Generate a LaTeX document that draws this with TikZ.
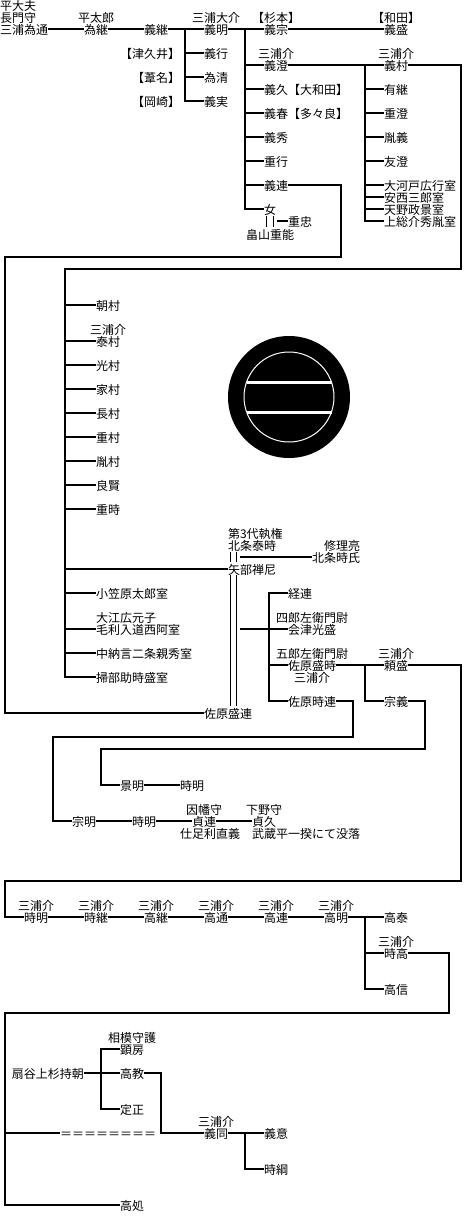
\documentclass[tikz,border=0pt]{standalone}
\usepackage{fontspec}
\setmainfont{Noto Sans CJK JP}
\usetikzlibrary{positioning}

\begin{document}
\begin{tikzpicture}[
    x=1pt, y=-1pt,
    node distance=12pt and 36pt,
    person/.style={inner sep=0pt, outer sep=0pt, text height=11pt, text depth=1pt, font=\fontsize{12}{12}\selectfont},
    under/.style={below=12pt of #1.south west, anchor=north west},
    over/.style={above=0pt of #1.north west, anchor=south west},
    wire/.style={draw, line width=2pt},
    marriage/.style={double, line width=1pt, double distance=4.4pt, shorten <=1pt, shorten >=1pt}
]
\useasboundingbox (0,0) rectangle (468,1224);

% 1. Crest
\coordinate (crest) at (289,397);
\fill (crest) circle (61);
\draw[white, line width=1pt] (crest) circle (45);
\draw[white, line width=3pt] ([shift={(-42.5,-15)}]crest) -- ([shift={(42.5,-15)}]crest);
\draw[white, line width=3pt] ([shift={(-42.5,15)}]crest) -- ([shift={(42.5,15)}]crest);

% 2. First rows
\node[person, anchor=west] (tamemichi) at (0,29) {三浦為通};
\node[person, over=tamemichi] (nagato) {長門守};
\node[person, over=nagato] (heitayu) {平大夫};
\node[person, right=of tamemichi] (tametsugu) {為継};
\node[person, above=0pt of tametsugu] (heitaro) {平太郎};
\node[person, right=of tametsugu] (yoshitsugu) {義継};
\node[person, right=of yoshitsugu] (yoshiaki) {義明};
\node[person, above=0pt of yoshiaki] (oosuke) {三浦大介};
\node[person, below=of yoshiaki] (yoshiyuki) {義行};
\node[person, below=of yoshiyuki] (tamekiyo) {為清};
\node[person, below=of tamekiyo] (yoshizane) {義実};
\node[person, left=24pt of yoshiyuki] (tsukui) {【津久井】};
\node[person, left=24pt of tamekiyo] (ashina) {【葦名】};
\node[person, left=24pt of yoshizane] (okazaki) {【岡崎】};

\node[person, right=of yoshiaki] (yoshimune) {義宗};
\node[person, above=0pt of yoshimune] (sugimoto) {【杉本】};
\node[person, right=96pt of yoshimune] (yoshimori) {義盛};
\node[person, above=0pt of yoshimori] (wada) {【和田】};

\node[person, below=24pt of yoshimune] (yoshizumi) {義澄};
\node[person, above=0pt of yoshizumi] (miurasukeA) {三浦介};
\node[person, under=yoshizumi] (yoshihisa) {義久【大和田】};
\node[person, under=yoshihisa] (yoshiharu) {義春【多々良】};
\node[person, under=yoshiharu] (yoshihide) {義秀};
\node[person, under=yoshihide] (shigeyuki) {重行};
\node[person, under=shigeyuki] (yoshitsura) {義連};
\node[person, under=yoshitsura] (onna) {女};
\node[person, below right=0pt and 12pt of onna] (shigetada) {重忠};
\node[person, below=13pt of onna] (shigeyoshi) {畠山重能};
\coordinate[left=11pt of shigetada.west] (onnapair);

\node[person, right=96pt of yoshizumi] (yoshimura) {義村};
\node[person, above=0pt of yoshimura] (miurasukeB) {三浦介};
\node[person, under=yoshimura] (aritsugu) {有継};
\node[person, under=aritsugu] (shigezumi) {重澄};
\node[person, under=shigezumi] (taneyoshi) {胤義};
\node[person, under=taneyoshi] (tomozumi) {友澄};
\node[person, under=tomozumi] (okawado) {大河戸広行室};
\node[person, below=0pt of okawado.south west, anchor=north west] (anzai) {安西三郎室};
\node[person, below=0pt of anzai.south west, anchor=north west] (amano) {天野政景室};
\node[person, below=0pt of amano.south west, anchor=north west] (kazusa) {上総介秀胤室};

% 3. Yoshimura's children
\node[person, anchor=west] (tomomura) at (96,305) {朝村};
\node[person, below=24pt of tomomura] (yasumura) {泰村};
\node[person, above=0pt of yasumura] (miurasukeC) {三浦介};
\node[person, below=of yasumura] (mitsumura) {光村};
\node[person, below=of mitsumura] (iemura) {家村};
\node[person, below=of iemura] (nagamura) {長村};
\node[person, below=of nagamura] (shigemura) {重村};
\node[person, below=of shigemura] (tanemura) {胤村};
\node[person, below=of tanemura] (ryoken) {良賢};
\node[person, below=of ryoken] (shigetoki) {重時};
\node[person, anchor=west] (ogasawara) at (96,593) {小笠原太郎室};
\node[person, below=24pt of ogasawara.south west, anchor=north west] (mori) {毛利入道西阿室};
\node[person, over=mori] (oe) {大江広元子};
\node[person, under=mori] (nagon) {中納言二条親秀室};
\node[person, under=nagon] (kamon) {掃部助時盛室};

\node[person, anchor=west] (yabe) at (228,569) {矢部禅尼};
\node[person, above=12pt of yabe] (yasutoki) {北条泰時};
\node[person, over=yasutoki] (shikken) {第3代執権};
\node[person, anchor=west] (tokiuji) at (312,557) {北条時氏};
\node[person, above=0pt of tokiuji.north east, anchor=south east] (shuri) {修理亮};
\node[person, anchor=west] (moritsura) at (204,713) {佐原盛連};
\coordinate (pairA) at (240,557);
\coordinate (pairB) at (240,629);

% 4. Sahara line
\node[person, anchor=west] (tsunetsura) at (288,593) {経連};
\node[person, below=24pt of tsunetsura.south west, anchor=north west] (mitsumori) {会津光盛};
\node[person, above=0pt of mitsumori] (shiro) {四郎左衛門尉};
\node[person, below=24pt of mitsumori] (moritoki) {佐原盛時};
\node[person, above=0pt of moritoki] (goro) {五郎左衛門尉};
\node[person, below=0pt of moritoki] (miurasukeD) {三浦介};
\node[person, below=24pt of moritoki] (tokitsura) {佐原時連};
\node[person, right=48pt of moritoki] (yorimori) {頼盛};
\node[person, above=0pt of yorimori] (miurasukeE) {三浦介};
\node[person, right=48pt of tokitsura] (muneyoshi) {宗義};

\node[person, anchor=west] (kageaki) at (120,785) {景明};
\node[person, right=of kageaki] (tokiakiA) {時明};
\node[person, anchor=west] (muneaki) at (72,821) {宗明};
\node[person, right=of muneaki] (tokiakiB) {時明};
\node[person, right=of tokiakiB] (sadatsura) {貞連};
\node[person, above=0pt of sadatsura] (inaba) {因幡守};
\node[person, below=0pt of sadatsura, xshift=6pt] (tadayoshi) {仕足利直義};
\node[person, right=of sadatsura] (sadahisa) {貞久};
\node[person, above=0pt of sadahisa] (shimotsuke) {下野守};
\node[person, below=0pt of sadahisa.south west, anchor=north west] (ikki) {武蔵平一揆にて没落};

% 5. Takaaki's row
\node[person, anchor=west] (tokiakiC) at (24,917) {時明};
\node[person, above=0pt of tokiakiC] (miurasukeF) {三浦介};
\node[person, right=of tokiakiC] (tokitsugu) {時継};
\node[person, above=0pt of tokitsugu] (miurasukeG) {三浦介};
\node[person, right=of tokitsugu] (takatsugu) {高継};
\node[person, above=0pt of takatsugu] (miurasukeH) {三浦介};
\node[person, right=of takatsugu] (takamichi) {高通};
\node[person, above=0pt of takamichi] (miurasukeI) {三浦介};
\node[person, right=of takamichi] (takatsura) {高連};
\node[person, above=0pt of takatsura] (miurasukeJ) {三浦介};
\node[person, right=of takatsura] (takaaki) {高明};
\node[person, above=0pt of takaaki] (miurasukeK) {三浦介};
\node[person, right=of takaaki] (takayasu) {高泰};
\node[person, below=24pt of takayasu] (tokitaka) {時高};
\node[person, above=0pt of tokitaka] (miurasukeL) {三浦介};
\node[person, below=24pt of tokitaka] (takanobu) {高信};

% 6. Last rows
\node[person, anchor=west] (mochitomo) at (12,1073) {扇谷上杉持朝};
\node[person, right=of mochitomo] (takanori) {高教};
\node[person, above=12pt of takanori] (akifusa) {顕房};
\node[person, above=0pt of akifusa] (sagami) {相模守護};
\node[person, below=24pt of takanori] (sadamasa) {定正};
\node[person, anchor=west] (equalrow) at (60,1133) {＝＝＝＝＝＝＝＝};
\node[person, anchor=west] (yoshiatsu) at (204,1133) {義同};
\node[person, above=0pt of yoshiatsu] (miurasukeM) {三浦介};
\node[person, right=of yoshiatsu] (yoshioki) {義意};
\node[person, below=24pt of yoshioki] (tokitsuna) {時綱};
\node[person, anchor=west] (takaoki) at (120,1205) {高処};

% 7. Bends and rails
\coordinate (branchA) at (185,29);
\coordinate (branchB) at (245,29);
\coordinate (branchC) at (365,65);
\coordinate (bendA) at (341,257);
\coordinate (railA) at (5,713);
\coordinate (bendB) at (461,269);
\coordinate (railB) at (65,677);
\coordinate (railC) at (269,701);
\coordinate (branchD) at (365,665);
\coordinate (bendE) at (461,881);
\coordinate (railE) at (5,917);
\coordinate (bendF) at (425,749);
\coordinate (railF) at (101,785);
\coordinate (bendG) at (353,737);
\coordinate (railG) at (53,821);
\coordinate (branchH) at (365,917);
\coordinate (bendI) at (449,1013);
\coordinate (railI) at (5,1205);
\coordinate (branchJ) at (101,1109);
\coordinate (bendK) at (161,1133);
\coordinate (branchL) at (245,1133);

% 8. Connections
\draw[wire] (tamemichi) -- (tametsugu);
\draw[wire] (tametsugu) -- (yoshitsugu);
\draw[wire] (yoshitsugu) -- (yoshiaki);
\draw[wire] (yoshiaki) -- (yoshimune);
\draw[wire] (yoshimune) -- (yoshimori);
\draw[wire] (branchA) |- (yoshizane);
\draw[wire] (branchA |- yoshiyuki) -- (yoshiyuki);
\draw[wire] (branchA |- tamekiyo) -- (tamekiyo);
\draw[wire] (branchB) |- (onna);
\draw[wire] (branchB |- yoshizumi) -- (yoshizumi);
\draw[wire] (branchB |- yoshihisa) -- (yoshihisa);
\draw[wire] (branchB |- yoshiharu) -- (yoshiharu);
\draw[wire] (branchB |- yoshihide) -- (yoshihide);
\draw[wire] (branchB |- shigeyuki) -- (shigeyuki);
\draw[wire] (branchB |- yoshitsura) -- (yoshitsura);
\draw[wire] (onnapair) -- (shigetada);
\draw[marriage, double distance=5.7pt] (onna) -- (shigeyoshi);

\draw[wire] (yoshizumi) -- (yoshimura);
\draw[wire] (branchC) |- (kazusa);
\draw[wire] (branchC |- aritsugu) -- (aritsugu);
\draw[wire] (branchC |- shigezumi) -- (shigezumi);
\draw[wire] (branchC |- taneyoshi) -- (taneyoshi);
\draw[wire] (branchC |- tomozumi) -- (tomozumi);
\draw[wire] (branchC |- okawado) -- (okawado);
\draw[wire] (branchC |- anzai) -- (anzai);
\draw[wire] (branchC |- amano) -- (amano);

\draw[wire] (yoshitsura) -| (bendA) -| (railA) -- (moritsura);
\draw[wire] (yoshimura) -| (bendB) -| (railB) -- (kamon);
\draw[wire] (railB |- tomomura) -- (tomomura);
\draw[wire] (railB |- yasumura) -- (yasumura);
\draw[wire] (railB |- mitsumura) -- (mitsumura);
\draw[wire] (railB |- iemura) -- (iemura);
\draw[wire] (railB |- nagamura) -- (nagamura);
\draw[wire] (railB |- shigemura) -- (shigemura);
\draw[wire] (railB |- tanemura) -- (tanemura);
\draw[wire] (railB |- ryoken) -- (ryoken);
\draw[wire] (railB |- shigetoki) -- (shigetoki);
\draw[wire] (railB |- yabe) -- (yabe);
\draw[wire] (railB |- ogasawara) -- (ogasawara);
\draw[wire] (railB |- mori) -- (mori);
\draw[wire] (railB |- nagon) -- (nagon);

% Double lines of the marriages
\draw[marriage] ([xshift=5.5pt]yasutoki.south west) -- ([xshift=5.5pt]yabe.north west);
\draw[marriage, shorten <=0pt] ([xshift=5.5pt]yabe.south west) -- ([xshift=29.5pt]moritsura.north west);
\draw[wire] (pairA) -- (tokiuji);
\draw[wire] (pairB) -- (mitsumori);

\draw[wire] (tsunetsura) -| (railC) -- (tokitsura);
\draw[wire] (railC |- moritoki) -- (moritoki);
\draw[wire] (moritoki) -- (yorimori);
\draw[wire] (branchD) |- (muneyoshi);
\draw[wire] (yorimori) -| (bendE) -| (railE) -- (tokiakiC);
\draw[wire] (muneyoshi) -| (bendF) -| (railF) -- (kageaki);
\draw[wire] (kageaki) -- (tokiakiA);
\draw[wire] (tokitsura) -| (bendG) -| (railG) -- (muneaki);
\draw[wire] (muneaki) -- (tokiakiB);
\draw[wire] (tokiakiB) -- (sadatsura);
\draw[wire] (sadatsura) -- (sadahisa);

\draw[wire] (tokiakiC) -- (tokitsugu);
\draw[wire] (tokitsugu) -- (takatsugu);
\draw[wire] (takatsugu) -- (takamichi);
\draw[wire] (takamichi) -- (takatsura);
\draw[wire] (takatsura) -- (takaaki);
\draw[wire] (takaaki) -- (takayasu);
\draw[wire] (branchH) |- (takanobu);
\draw[wire] (branchH |- tokitaka) -- (tokitaka);
\draw[wire] (tokitaka) -| (bendI) -| (railI) -- (takaoki);

\draw[wire] (mochitomo) -- (takanori);
\draw[wire] (akifusa) -| (branchJ) -- (sadamasa);
\draw[wire] (takanori) -| (bendK) -- (yoshiatsu);
\draw[wire] (railI |- equalrow) -- (equalrow);
\draw[wire] (yoshiatsu) -- (yoshioki);
\draw[wire] (branchL) |- (tokitsuna);

\end{tikzpicture}
\end{document}
